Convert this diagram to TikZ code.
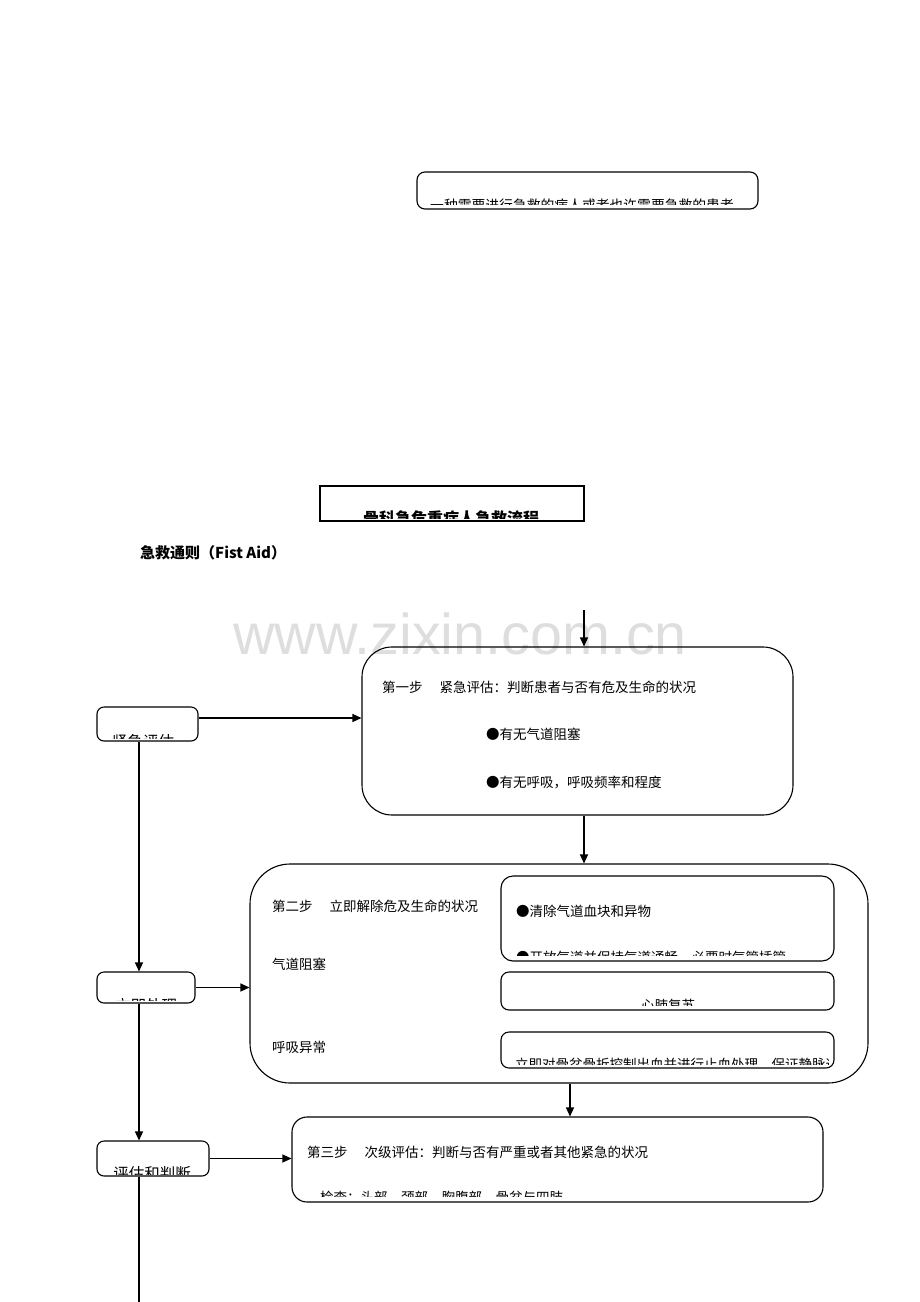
\documentclass[tikz,border=0pt]{standalone}
\usepackage{fontspec}
\newfontfamily\cjk{Noto Sans CJK SC}
\newfontfamily\wmfont{Liberation Sans}
\usetikzlibrary{arrows.meta}
\begin{document}
\begin{tikzpicture}[x=1pt,y=-1pt,
  box/.style={draw, line width=1.1pt, inner sep=0pt},
  arr/.style={-{Triangle[length=9pt,width=8pt]}, line width=1.2pt},
  ln/.style={line width=1.2pt},
  txt/.style={anchor=west, inner sep=0pt, font=\cjk\fontsize{13.5}{16}\selectfont},
  ctxt/.style={anchor=base west, inner sep=0pt, font=\cjk\fontsize{13.5}{16}\selectfont},
  ltxt/.style={anchor=base, inner sep=0pt, font=\cjk\fontsize{15.5}{18}\selectfont}]
\useasboundingbox (0,0) rectangle (920,1302);
% watermark
\node[inner sep=0pt, text=black!13, font=\wmfont\fontsize{57.5}{60}\selectfont] (wm) at (460,634) {www.zixin.com.cn};

% boxes
\node[box, rounded corners=8pt, minimum width=341pt, minimum height=37pt] (boxA) at (587.5,190.5) {};
\node[box, minimum width=264pt, minimum height=35pt] (boxB) at (452,503.5) {};
\node[box, rounded corners=30pt, minimum width=431pt, minimum height=168pt] (s1) at (577.5,731) {};
\node[box, rounded corners=7pt, minimum width=101pt, minimum height=34pt] (lb1) at (147.5,724) {};
\node[box, rounded corners=40pt, minimum width=618pt, minimum height=219pt] (s2) at (559,973.5) {};
\node[box, rounded corners=12pt, minimum width=333pt, minimum height=85pt] (i1) at (667.5,918.5) {};
\node[box, rounded corners=8pt, minimum width=333pt, minimum height=38pt] (i2) at (667.5,991) {};
\node[box, rounded corners=8pt, minimum width=333pt, minimum height=36pt] (i3) at (667.5,1050) {};
\node[box, rounded corners=7pt, minimum width=98pt, minimum height=31pt] (lb2) at (146,987.5) {};
\node[box, rounded corners=15pt, minimum width=531pt, minimum height=85pt] (s3) at (557.5,1159.5) {};
\node[box, rounded corners=7pt, minimum width=112pt, minimum height=35pt] (lb3) at (153,1158.5) {};

% clipped texts
\begin{scope}
\clip (418,173) rectangle (757,204);
\node[anchor=base west, inner sep=0pt, font=\cjk\fontsize{13.8}{16}\selectfont] (tA) at (430,210) {一种需要进行急救的病人或者也许需要急救的患者};
\end{scope}
\begin{scope}
\clip (321,487) rectangle (583,518.5);
\node[anchor=base west, inner sep=0pt, font=\cjk\bfseries\fontsize{16}{18}\selectfont] (tB) at (363,524) {骨科急危重症人急救流程};
\end{scope}
\begin{scope}
\clip (98,708) rectangle (197,738);
\node[ltxt] (t1) at (143,747) {紧急评估};
\end{scope}
\begin{scope}
\clip (98,973) rectangle (194,1000.5);
\node[ltxt] (t2) at (146,1011) {立即处理};
\end{scope}
\begin{scope}
\clip (98,1142) rectangle (208,1174.5);
\node[ltxt] (t3) at (152,1179) {评估和判断};
\end{scope}
\begin{scope}
\clip (502,877) rectangle (833,955.5);
\node[ctxt] (ti1b) at (516,962) {●开放气道并保持气道通畅，必要时气管插管};
\end{scope}
\begin{scope}
\clip (502,973) rectangle (833,1005.5);
\node[ltxt, font=\cjk\fontsize{13.5}{16}\selectfont] (ti2) at (668,1010) {心肺复苏};
\end{scope}
\begin{scope}
\clip (502,1033) rectangle (828,1064);
\node[ctxt] (ti3) at (515,1069) {立即对骨盆骨折控制出血并进行止血处理，保证静脉通路，纠正休克};
\end{scope}
\begin{scope}
\clip (293,1118) rectangle (822,1196.5);
\node[ctxt] (ts3b) at (320,1202) {检查：头部、颈部、胸腹部、骨盆与四肢};
\end{scope}

% plain texts
\node[anchor=west, inner sep=0pt, font=\cjk\bfseries\fontsize{15}{18}\selectfont] (title) at (140,553) {急救通则（Fist Aid）};
\node[txt] (s1a) at (382,687) {第一步\hspace{1.25em}紧急评估：判断患者与否有危及生命的状况};
\node[txt] (s1b) at (486,734) {●有无气道阻塞};
\node[txt] (s1c) at (486,782) {●有无呼吸，呼吸频率和程度};
\node[txt] (s2a) at (272,906) {第二步\hspace{1.25em}立即解除危及生命的状况};
\node[txt] (s2b) at (272,964) {气道阻塞};
\node[txt] (s2c) at (272,1047) {呼吸异常};
\node[txt] (i1a) at (516,911) {●清除气道血块和异物};
\node[txt] (s3a) at (307,1152) {第三步\hspace{1.25em}次级评估：判断与否有严重或者其他紧急的状况};

% connectors
\coordinate (top) at (584,610);
\coordinate (c3) at (570,1090);
\coordinate (bot) at (139,1302);
\draw[arr] (top) -- (top |- s1.north);
\draw[arr] ([yshift=6pt]lb1.east) -- ([yshift=6pt]lb1.east -| s1.west);
\draw[arr] ([xshift=-8.5pt]lb1.south) -- ([xshift=-8.5pt]lb1.south |- lb2.north);
\draw[arr] (s1.south -| top) -- (s2.north -| top);
\draw[arr] (lb2.east) -- (lb2.east -| s2.west);
\draw[arr] ([xshift=-7pt]lb2.south) -- ([xshift=-7pt]lb2.south |- lb3.north);
\draw[arr] (c3 |- s2.south) -- (c3 |- s3.north);
\draw[arr] (lb3.east) -- (lb3.east -| s3.west);
\draw[ln] ([xshift=-14pt]lb3.south) -- (bot);
\end{tikzpicture}
\end{document}
